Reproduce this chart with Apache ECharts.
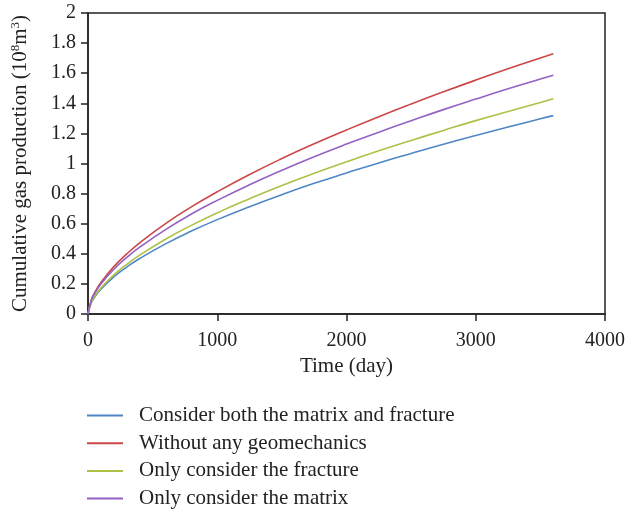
<!DOCTYPE html>
<html>
<head>
<meta charset="utf-8">
<script src="https://cdn.jsdelivr.net/npm/echarts@6/dist/echarts.min.js"></script>
<style>
  html, body { margin: 0; padding: 0; background: #fff; }
  #main { width: 628px; height: 509px; }
</style>
</head>
<body>
<div id="main"></div>
<script>
// time in days
const days = [0, 25, 50, 100, 200, 300, 400, 600, 800, 1000, 1250, 1500, 1750, 2000, 2250, 2500, 2750, 3000, 3250, 3500, 3600];

// cumulative gas production, 10^8 m^3
const bothMatrixFracture = [0, 0.074, 0.110, 0.165, 0.247, 0.312, 0.369, 0.466, 0.551, 0.627, 0.713, 0.793, 0.868, 0.937, 1.004, 1.067, 1.128, 1.186, 1.242, 1.297, 1.318];
const noGeomechanics     = [0, 0.092, 0.139, 0.209, 0.315, 0.399, 0.473, 0.601, 0.712, 0.812, 0.927, 1.033, 1.131, 1.223, 1.311, 1.395, 1.476, 1.554, 1.629, 1.701, 1.730];
const onlyFracture       = [0, 0.076, 0.115, 0.172, 0.260, 0.330, 0.391, 0.497, 0.589, 0.672, 0.766, 0.854, 0.935, 1.011, 1.084, 1.153, 1.220, 1.285, 1.346, 1.406, 1.430];
const onlyMatrix         = [0, 0.089, 0.133, 0.199, 0.297, 0.376, 0.444, 0.561, 0.664, 0.755, 0.859, 0.955, 1.045, 1.129, 1.208, 1.284, 1.358, 1.428, 1.496, 1.561, 1.587];

const seriesNames = [
  'Consider both the matrix and fracture',
  'Without any geomechanics',
  'Only consider the fracture',
  'Only consider the matrix'
];
const seriesData = [bothMatrixFracture, noGeomechanics, onlyFracture, onlyMatrix];
const colors = ['#4f86c6', '#cc4748', '#adc145', '#9461c4'];

const font = 'Liberation Serif';

let chart = echarts.init(document.getElementById('main'));

let option = {
  animation: false,
  color: colors,
  grid: {
    left: 88, right: 17, top: 13, bottom: 195,
    show: true,
    borderColor: '#222',
    borderWidth: 1.5
  },
  legend: {
    orient: 'vertical',
    left: 87,
    top: 405,
    height: 140,
    width: 500,
    padding: 0,
    icon: 'rect',
    itemWidth: 36,
    itemHeight: 2,
    itemGap: 6.7,
    data: seriesNames,
    textStyle: {
      fontFamily: font,
      fontSize: 21,
      color: '#222',
      lineHeight: 20,
      padding: [0, 0, 0, 11]
    }
  },
  xAxis: {
    type: 'value',
    min: 0, max: 4000, interval: 1000,
    name: 'Time (day)',
    nameLocation: 'middle',
    nameGap: 42,
    nameTextStyle: { fontFamily: font, fontSize: 21, color: '#222' },
    axisLine: { lineStyle: { color: '#222', width: 1.5 } },
    axisTick: { length: 7, lineStyle: { color: '#222', width: 1.5 } },
    axisLabel: { fontFamily: font, fontSize: 20, color: '#222', margin: 17, formatter: v => String(v) },
    splitLine: { show: false }
  },
  yAxis: {
    type: 'value',
    min: 0, max: 2, interval: 0.2,
    name: 'Cumulative gas production (10{sup|8}m{sup|3})',
    nameLocation: 'middle',
    nameGap: 57,
    nameTextStyle: {
      fontFamily: font, fontSize: 21, color: '#222',
      rich: { sup: { fontFamily: font, fontSize: 13, color: '#222', verticalAlign: 'top', padding: [0, 0, 9, 0] } }
    },
    axisLine: { show: true, lineStyle: { color: '#222', width: 1.5 } },
    axisTick: { show: true, length: 7, lineStyle: { color: '#222', width: 1.5 } },
    axisLabel: { fontFamily: font, fontSize: 20, color: '#222', margin: 12 },
    splitLine: { show: false }
  },
  series: seriesNames.map((name, i) => ({
    name: name,
    type: 'line',
    symbol: 'none',
    smooth: true,
    lineStyle: { width: 1.6, color: colors[i] },
    data: days.map((d, j) => [d, seriesData[i][j]])
  }))
};

chart.setOption(option);
</script>
</body>
</html>
